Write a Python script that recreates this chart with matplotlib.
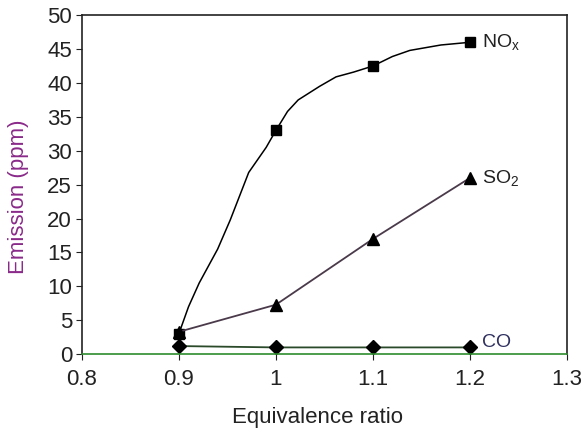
import numpy as np
import matplotlib.pyplot as plt

plt.rcParams['font.family'] = ['Liberation Sans', 'DejaVu Sans']
plt.rcParams['mathtext.fontset'] = 'custom'
plt.rcParams['mathtext.rm'] = 'Liberation Sans'
plt.rcParams['mathtext.default'] = 'regular'

# measured points
phi = [0.9, 1.0, 1.1, 1.2]
nox = [3.0, 33.0, 42.5, 46.0]
so2 = [3.3, 7.3, 17.0, 26.0]
co = [1.2, 1.0, 1.0, 1.0]

# hand-fitted NOx trend curve
nox_curve_x = [0.9, 0.91, 0.921, 0.94, 0.953, 0.972, 0.99, 1.0, 1.012, 1.023,
               1.045, 1.062, 1.08, 1.1, 1.12, 1.138, 1.17, 1.2]
nox_curve_y = [3.0, 7.0, 10.5, 15.5, 19.8, 26.8, 30.5, 33.0, 35.8, 37.5,
               39.5, 40.9, 41.6, 42.5, 43.9, 44.8, 45.6, 46.0]

fig = plt.figure(figsize=(5.84, 4.33), dpi=100)
ax = fig.add_axes([0.140, 0.182, 0.831, 0.783])

ax.plot(nox_curve_x, nox_curve_y, color='black', lw=1.1)
ax.plot(phi, nox, 's', color='black', ms=7.5)
ax.plot(phi, so2, '-^', color='#4a3a4a', lw=1.3, ms=9, mfc='black', mec='black')
ax.plot(phi, co, '-D', color='#2a4a2a', lw=1.3, ms=7, mfc='black', mec='black')

ax.text(1.212, 46.0, 'NO$_\\mathrm{x}$', fontsize=14, va='center', ha='left', color='#222222')
ax.text(1.212, 26.0, 'SO$_2$', fontsize=14, va='center', ha='left', color='#222222')
ax.text(1.212, 1.7, 'CO', fontsize=14, va='center', ha='left', color='#303060')

ax.set_xlim(0.8, 1.3)
ax.set_ylim(0, 50)
ax.set_xticks([0.8, 0.9, 1.0, 1.1, 1.2, 1.3])
ax.set_xticklabels(['0.8', '0.9', '1', '1.1', '1.2', '1.3'])
ax.set_yticks(np.arange(0, 51, 5))
ax.tick_params(labelsize=16, direction='out', length=4, colors='#222222')
ax.tick_params(axis='x', pad=7)
ax.tick_params(axis='y', pad=3)

for s in ax.spines.values():
    s.set_linewidth(1.2)
    s.set_color('#222222')
ax.spines['bottom'].set_color('#2e8b2e')

ax.set_xlabel('Equivalence ratio', fontsize=16, color='#222222', va='center')
ax.set_ylabel('Emission (ppm)', fontsize=16, color='#8a2a8a', va='center')
ax.xaxis.set_label_coords(0.485, -0.186)
ax.yaxis.set_label_coords(-0.131, 0.465)

fig.savefig('out.png', dpi=100)
